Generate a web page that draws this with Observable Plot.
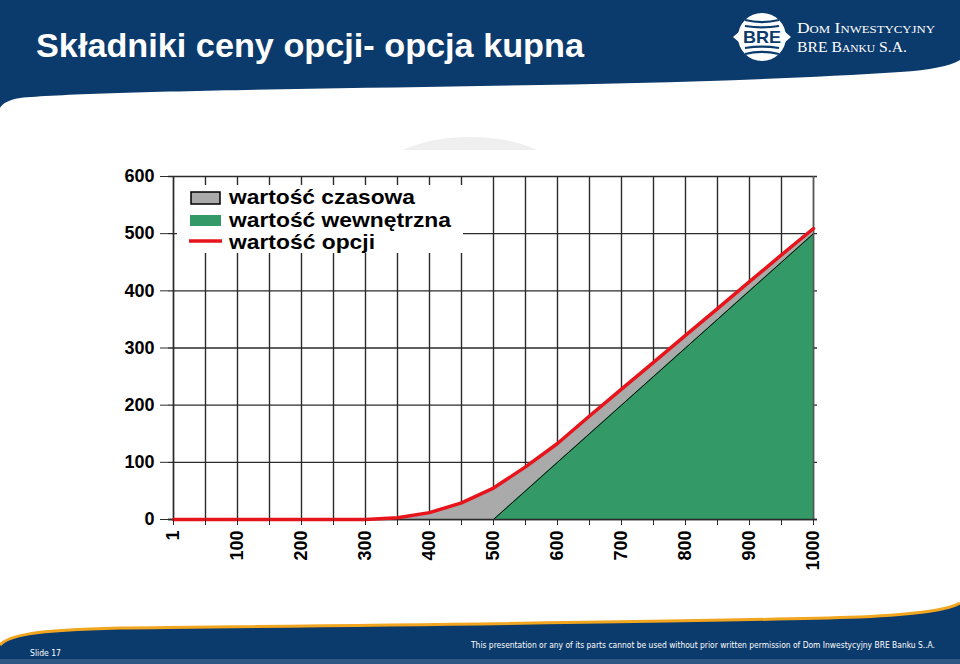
<!DOCTYPE html>
<html>
<head>
<meta charset="utf-8">
<script src="https://cdn.jsdelivr.net/npm/d3@7"></script>
<script src="https://cdn.jsdelivr.net/npm/@observablehq/plot@0.6"></script>
<style>
  html, body { margin: 0; padding: 0; background: #fff; }
  #page { position: relative; width: 960px; height: 664px; overflow: hidden; background: #fff; }
  #decor, #chart, #legend { position: absolute; left: 0; top: 0; }
  #chart { top: 150px; }
  #legend { left: 177px; top: 185px; }
</style>
</head>
<body>
<div id="page">
  <svg id="decor" width="960" height="664"></svg>
  <div id="chart"></div>
  <svg id="legend" width="290" height="70"></svg>
</div>
<script>
// ---- data ----
const strikes = ["1","50","100","150","200","250","300","350","400","450","500","550","600","650","700","750","800","850","900","950","1000"];
const optionValue = [0,0,0,0,0,0,0,3,12,29,55,92,133,181,228,275,322,369,416,463,509];
const intrinsicValue = [0,0,0,0,0,0,0,0,0,0,0,50,100,150,200,250,300,350,400,450,500];
const xTickLabels = ["1","100","200","300","400","500","600","700","800","900","1000"];
const yTicks = [0,100,200,300,400,500,600];
const legendLabels = ["wartość czasowa","wartość wewnętrzna","wartość opcji"];
const titleText = "Składniki ceny opcji- opcja kupna";
const footerText = "This presentation or any of its parts cannot be used without prior written permission of Dom Inwestycyjny BRE Banku S..A.";
const slideText = "Slide 17";

const rows = strikes.map((s, i) => ({strike: s, option: optionValue[i], intrinsic: intrinsicValue[i]}));
const firstIntrinsic = strikes.indexOf("500");

// ---- decoration (header / footer) ----
const NAVY = "#0b3a6c";
const decor = d3.select("#decor");
decor.append("clipPath").attr("id","topclip").append("rect").attr("x",0).attr("y",0).attr("width",960).attr("height",150);
decor.append("ellipse").attr("cx",470).attr("cy",178).attr("rx",92).attr("ry",41)
  .attr("fill","#efefef").attr("clip-path","url(#topclip)");
decor.append("path")
  .attr("d","M0,0 H960 V60 C950,66 930,70 900,72 C780,80 620,84 480,86 C300,89 80,92 20,98 C8,100 2,104 0,108 Z")
  .attr("fill", NAVY);
decor.append("text").text(titleText)
  .attr("x",36).attr("y",57)
  .attr("font-family","Liberation Sans, Arial, sans-serif").attr("font-weight","bold")
  .attr("font-size",34).attr("fill","#fff")
  .attr("textLength",548).attr("lengthAdjust","spacingAndGlyphs");
// logo
const logo = decor.append("g");
logo.append("ellipse").attr("cx",762).attr("cy",37).attr("rx",24).attr("ry",24).attr("fill","#fff");
[-17,-11,11,17].forEach(dy => {
  logo.append("path").attr("d",`M${745},${37+dy} Q762,${37+dy*0.75} 779,${37+dy}`)
    .attr("stroke",NAVY).attr("stroke-width",2).attr("fill","none");
});
logo.append("path").attr("d","M733,37 L740,31 L740,43 Z M791,37 L784,31 L784,43 Z").attr("fill","#fff");
logo.append("text").text("BRE").attr("x",762).attr("y",43).attr("text-anchor","middle")
  .attr("font-family","Liberation Sans, Arial, sans-serif").attr("font-weight","bold")
  .attr("font-size",17).attr("fill",NAVY).attr("textLength",38).attr("lengthAdjust","spacingAndGlyphs");
decor.append("text").text("Dom Inwestycyjny").attr("x",797).attr("y",33)
  .attr("font-family","Liberation Serif, Times New Roman, serif").attr("font-size",15)
  .attr("font-variant","small-caps").attr("fill","#fff")
  .attr("textLength",138).attr("lengthAdjust","spacingAndGlyphs");
decor.append("text").text("BRE Banku S.A.").attr("x",797).attr("y",52)
  .attr("font-family","Liberation Serif, Times New Roman, serif").attr("font-size",15)
  .attr("font-variant","small-caps").attr("fill","#fff")
  .attr("textLength",110).attr("lengthAdjust","spacingAndGlyphs");
// footer band
const footerTop = "M0,645 C8,636 30,630 120,628 C400,625 700,622 860,617 C920,614 948,610 960,603";
decor.append("path").attr("d", footerTop + " V664 H0 Z").attr("fill", NAVY);
decor.append("rect").attr("x",0).attr("y",659).attr("width",960).attr("height",5).attr("fill","#2f5784");
decor.append("path").attr("d", footerTop).attr("fill","none").attr("stroke","#f2a51e").attr("stroke-width",3);
decor.append("text").text(slideText).attr("x",30).attr("y",656)
  .attr("font-family","Liberation Sans Narrow, DejaVu Sans Condensed, Arial, sans-serif").attr("font-size",9).attr("fill","#fff")
  .attr("textLength",31).attr("lengthAdjust","spacingAndGlyphs");
decor.append("text").text(footerText).attr("x",935).attr("y",648).attr("text-anchor","end")
  .attr("font-family","Liberation Sans Narrow, DejaVu Sans Condensed, Arial, sans-serif").attr("font-size",8).attr("fill","#fff")
  .attr("textLength",464).attr("lengthAdjust","spacingAndGlyphs");

// ---- chart ----
const GRID = "#2b2b2b";
const chart = Plot.plot({
  width: 960,
  height: 430,
  marginLeft: 168,
  marginRight: 143,
  marginTop: 26,
  marginBottom: 61,
  style: {fontFamily: "Liberation Sans, Arial, sans-serif", fontWeight: "bold", fontSize: "18px", color: "#000", background: "transparent", overflow: "visible"},
  x: {type: "point", domain: strikes, padding: 0, label: null},
  y: {domain: [0, 600], label: null},
  marks: [
    Plot.ruleY(yTicks, {stroke: GRID, strokeWidth: 1.4}),
    Plot.ruleX(strikes, {y1: 0, y2: 600, stroke: GRID, strokeWidth: 1.4}),
    Plot.areaY(rows, {x: "strike", y: "option", fill: "#aaaaaa"}),
    Plot.areaY(rows, {x: "strike", y: "intrinsic", fill: "#339966"}),
    Plot.lineY(rows.slice(firstIntrinsic), {x: "strike", y: "intrinsic", stroke: "#000", strokeWidth: 1}),
    Plot.ruleX([strikes[strikes.length - 1]], {y1: 0, y2: 600, stroke: "#555", strokeWidth: 1.4}),
    Plot.ruleY([0], {stroke: GRID, strokeWidth: 1.4}),
    Plot.ruleX([strikes[0]], {y1: 0, y2: 600, stroke: GRID, strokeWidth: 1.4}),
    Plot.lineY(rows, {x: "strike", y: "option", stroke: "#e8141c", strokeWidth: 3.5}),
    Plot.axisX({tickRotate: -90, tickSize: 6, tickPadding: 5, label: null, tickFormat: d => xTickLabels.includes(d) ? d : "", stroke: GRID}),
    Plot.axisY({ticks: yTicks, tickSize: 8, tickPadding: 6, label: null, stroke: GRID})
  ]
});
document.getElementById("chart").appendChild(chart);

// ---- legend ----
const lg = d3.select("#legend");
lg.append("rect").attr("x",0).attr("y",0).attr("width",286).attr("height",68).attr("fill","#fff");
lg.append("rect").attr("x",14).attr("y",7).attr("width",29).attr("height",12).attr("fill","#aaaaaa").attr("stroke","#000").attr("stroke-width",1.5);
lg.append("rect").attr("x",13).attr("y",30).attr("width",31).attr("height",11).attr("fill","#339966");
lg.append("line").attr("x1",12).attr("x2",45).attr("y1",56).attr("y2",56).attr("stroke","#e8141c").attr("stroke-width",3.5);
const widths = [186, 222, 146];
legendLabels.forEach((t, i) => {
  lg.append("text").text(t).attr("x",52).attr("y",19 + i*22.5)
    .attr("font-family","Liberation Sans, Arial, sans-serif").attr("font-size",21).attr("font-weight","bold")
    .attr("fill","#000").attr("textLength",widths[i]).attr("lengthAdjust","spacingAndGlyphs");
});
</script>
</body>
</html>
